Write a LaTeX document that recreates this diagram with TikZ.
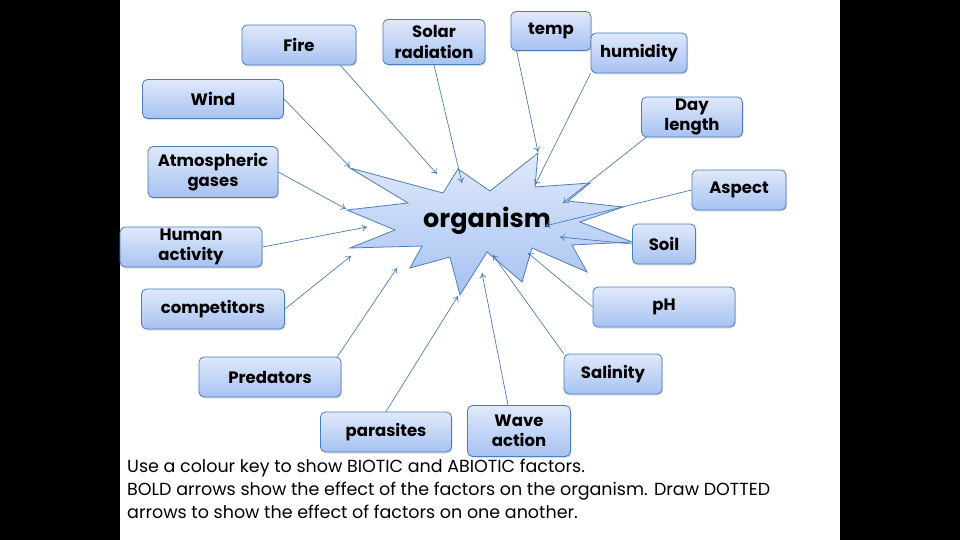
\documentclass[tikz,border=0pt]{standalone}
\usepackage{fontspec}
\setmainfont{Poppins}
\usetikzlibrary{arrows.meta, shadows}

\definecolor{factorline}{HTML}{4A7EBB}
\definecolor{factortop}{HTML}{E0E9FA}
\definecolor{factorbot}{HTML}{A6C2F2}

\begin{document}
\begin{tikzpicture}[x=1pt, y=-1pt, >={To[length=5pt, width=7pt]},
    factor/.style={draw=factorline, line width=0.8pt, rounded corners=5pt,
        top color=factortop, bottom color=factorbot, align=center, inner sep=0pt,
        font=\bfseries\fontsize{16.5}{20.5}\selectfont,
        drop shadow={shadow xshift=1pt, shadow yshift=-1.5pt, opacity=0.25}},
    effect/.style={->, draw=factorline, line width=0.7pt}]

    % slide and side bars
    \fill[black] (0,0) rectangle (960,540);
    \fill[white] (120,0) rectangle (840,540);

    % the organism
    \draw[draw=factorline, line width=0.8pt, top color=factortop, bottom color=factorbot]
        (350,168) -- (443,193) -- (458,169) -- (490,191) -- (538,153) -- (535,187)
        -- (590,183) -- (568,201) -- (623,207) -- (580,222) -- (632,242) -- (572,245)
        -- (587,272) -- (532,248) -- (522,282) -- (487,252) -- (460,295) -- (450,257)
        -- (410,268) -- (422,246) -- (350,248) -- (395,230) -- (347,210) -- (408,203) -- cycle;
    \node (Organism) at (487,221) {\bfseries\fontsize{25.5}{30}\selectfont organism};

    % factors
    \node (Fire) [factor, minimum width=114pt, minimum height=40pt] at (299,45) {Fire};
    \node (Solar) [factor, minimum width=102pt, minimum height=45pt] at (434,42) {Solar\\radiation};
    \node (Temp) [factor, minimum width=80pt, minimum height=39pt] at (551,31) {temp};
    \node (Humidity) [factor, minimum width=96pt, minimum height=40pt] at (639,53) {humidity};
    \node (DayLength) [factor, minimum width=101pt, minimum height=40pt] at (692,117) {Day\\length};
    \node (Aspect) [factor, minimum width=94pt, minimum height=40pt] at (739,190) {Aspect};
    \node (Soil) [factor, minimum width=63pt, minimum height=40pt] at (664,244) {Soil};
    \node (PH) [factor, minimum width=142pt, minimum height=40pt] at (664,307) {pH};
    \node (Salinity) [factor, minimum width=98pt, minimum height=40pt] at (613,374) {Salinity};
    \node (Wave) [factor, minimum width=103pt, minimum height=51pt] at (519,431) {Wave\\action};
    \node (Parasites) [factor, minimum width=131pt, minimum height=40pt] at (386,432) {parasites};
    \node (Predators) [factor, minimum width=142pt, minimum height=40pt] at (270,377) {Predators};
    \node (Competitors) [factor, minimum width=143pt, minimum height=40pt] at (213,309) {competitors};
    \node (Human) [factor, minimum width=142pt, minimum height=40pt] at (191,247) {Human\\activity};
    \node (Atmos) [factor, minimum width=130pt, minimum height=51pt] at (213,172) {Atmospheric\\gases};
    \node (Wind) [factor, minimum width=141pt, minimum height=39pt] at (213,99) {Wind};

    % where the arrows meet the organism
    \coordinate (FireTip) at (437,174);
    \coordinate (SolarTip) at (462,183);
    \coordinate (TempTip) at (538,152);
    \coordinate (HumidityTip) at (535,185);
    \coordinate (DayLengthTip) at (563,203);
    \coordinate (AspectTip) at (545,226);
    \coordinate (SoilTip) at (560,237);
    \coordinate (PHTip) at (528,253);
    \coordinate (SalinityTip) at (493,255);
    \coordinate (WaveTip) at (482,273);
    \coordinate (ParasitesTip) at (458,296);
    \coordinate (PredatorsTip) at (397,268);
    \coordinate (CompetitorsTip) at (351,256);
    \coordinate (HumanTip) at (367,227);
    \coordinate (AtmosTip) at (346,209);
    \coordinate (WindTip) at (350,167);

    \draw[effect] ([xshift=-16pt]Fire.south east) -- (FireTip);
    \draw[effect] (Solar.south) -- (SolarTip);
    \draw[effect] ([xshift=6pt]Temp.south west) -- (TempTip);
    \draw[effect] (Humidity.south west) -- (HumidityTip);
    \draw[effect] ([xshift=5pt]DayLength.south west) -- (DayLengthTip);
    \draw[effect] (Aspect.west) -- (AspectTip);
    \draw[effect] (Soil.west) -- (SoilTip);
    \draw[effect] (PH.west) -- (PHTip);
    \draw[effect] (Salinity.north west) -- (SalinityTip);
    \draw[effect] ([xshift=-11pt]Wave.north) -- (WaveTip);
    \draw[effect] (Parasites.north) -- (ParasitesTip);
    \draw[effect] ([xshift=-4pt]Predators.north east) -- (PredatorsTip);
    \draw[effect] (Competitors.east) -- (CompetitorsTip);
    \draw[effect] (Human.east) -- (HumanTip);
    \draw[effect] (Atmos.east) -- (AtmosTip);
    \draw[effect] (Wind.east) -- (WindTip);

    % instructions
    \node (Note) [anchor=north west, align=left, inner sep=0pt,
        font=\fontsize{17.5}{23}\selectfont] at (127,459)
        {Use a colour key to show BIOTIC and ABIOTIC factors.\\
         BOLD arrows show the effect of the factors on the organism. Draw DOTTED\\
         arrows to show the effect of factors on one another.};
\end{tikzpicture}
\end{document}
